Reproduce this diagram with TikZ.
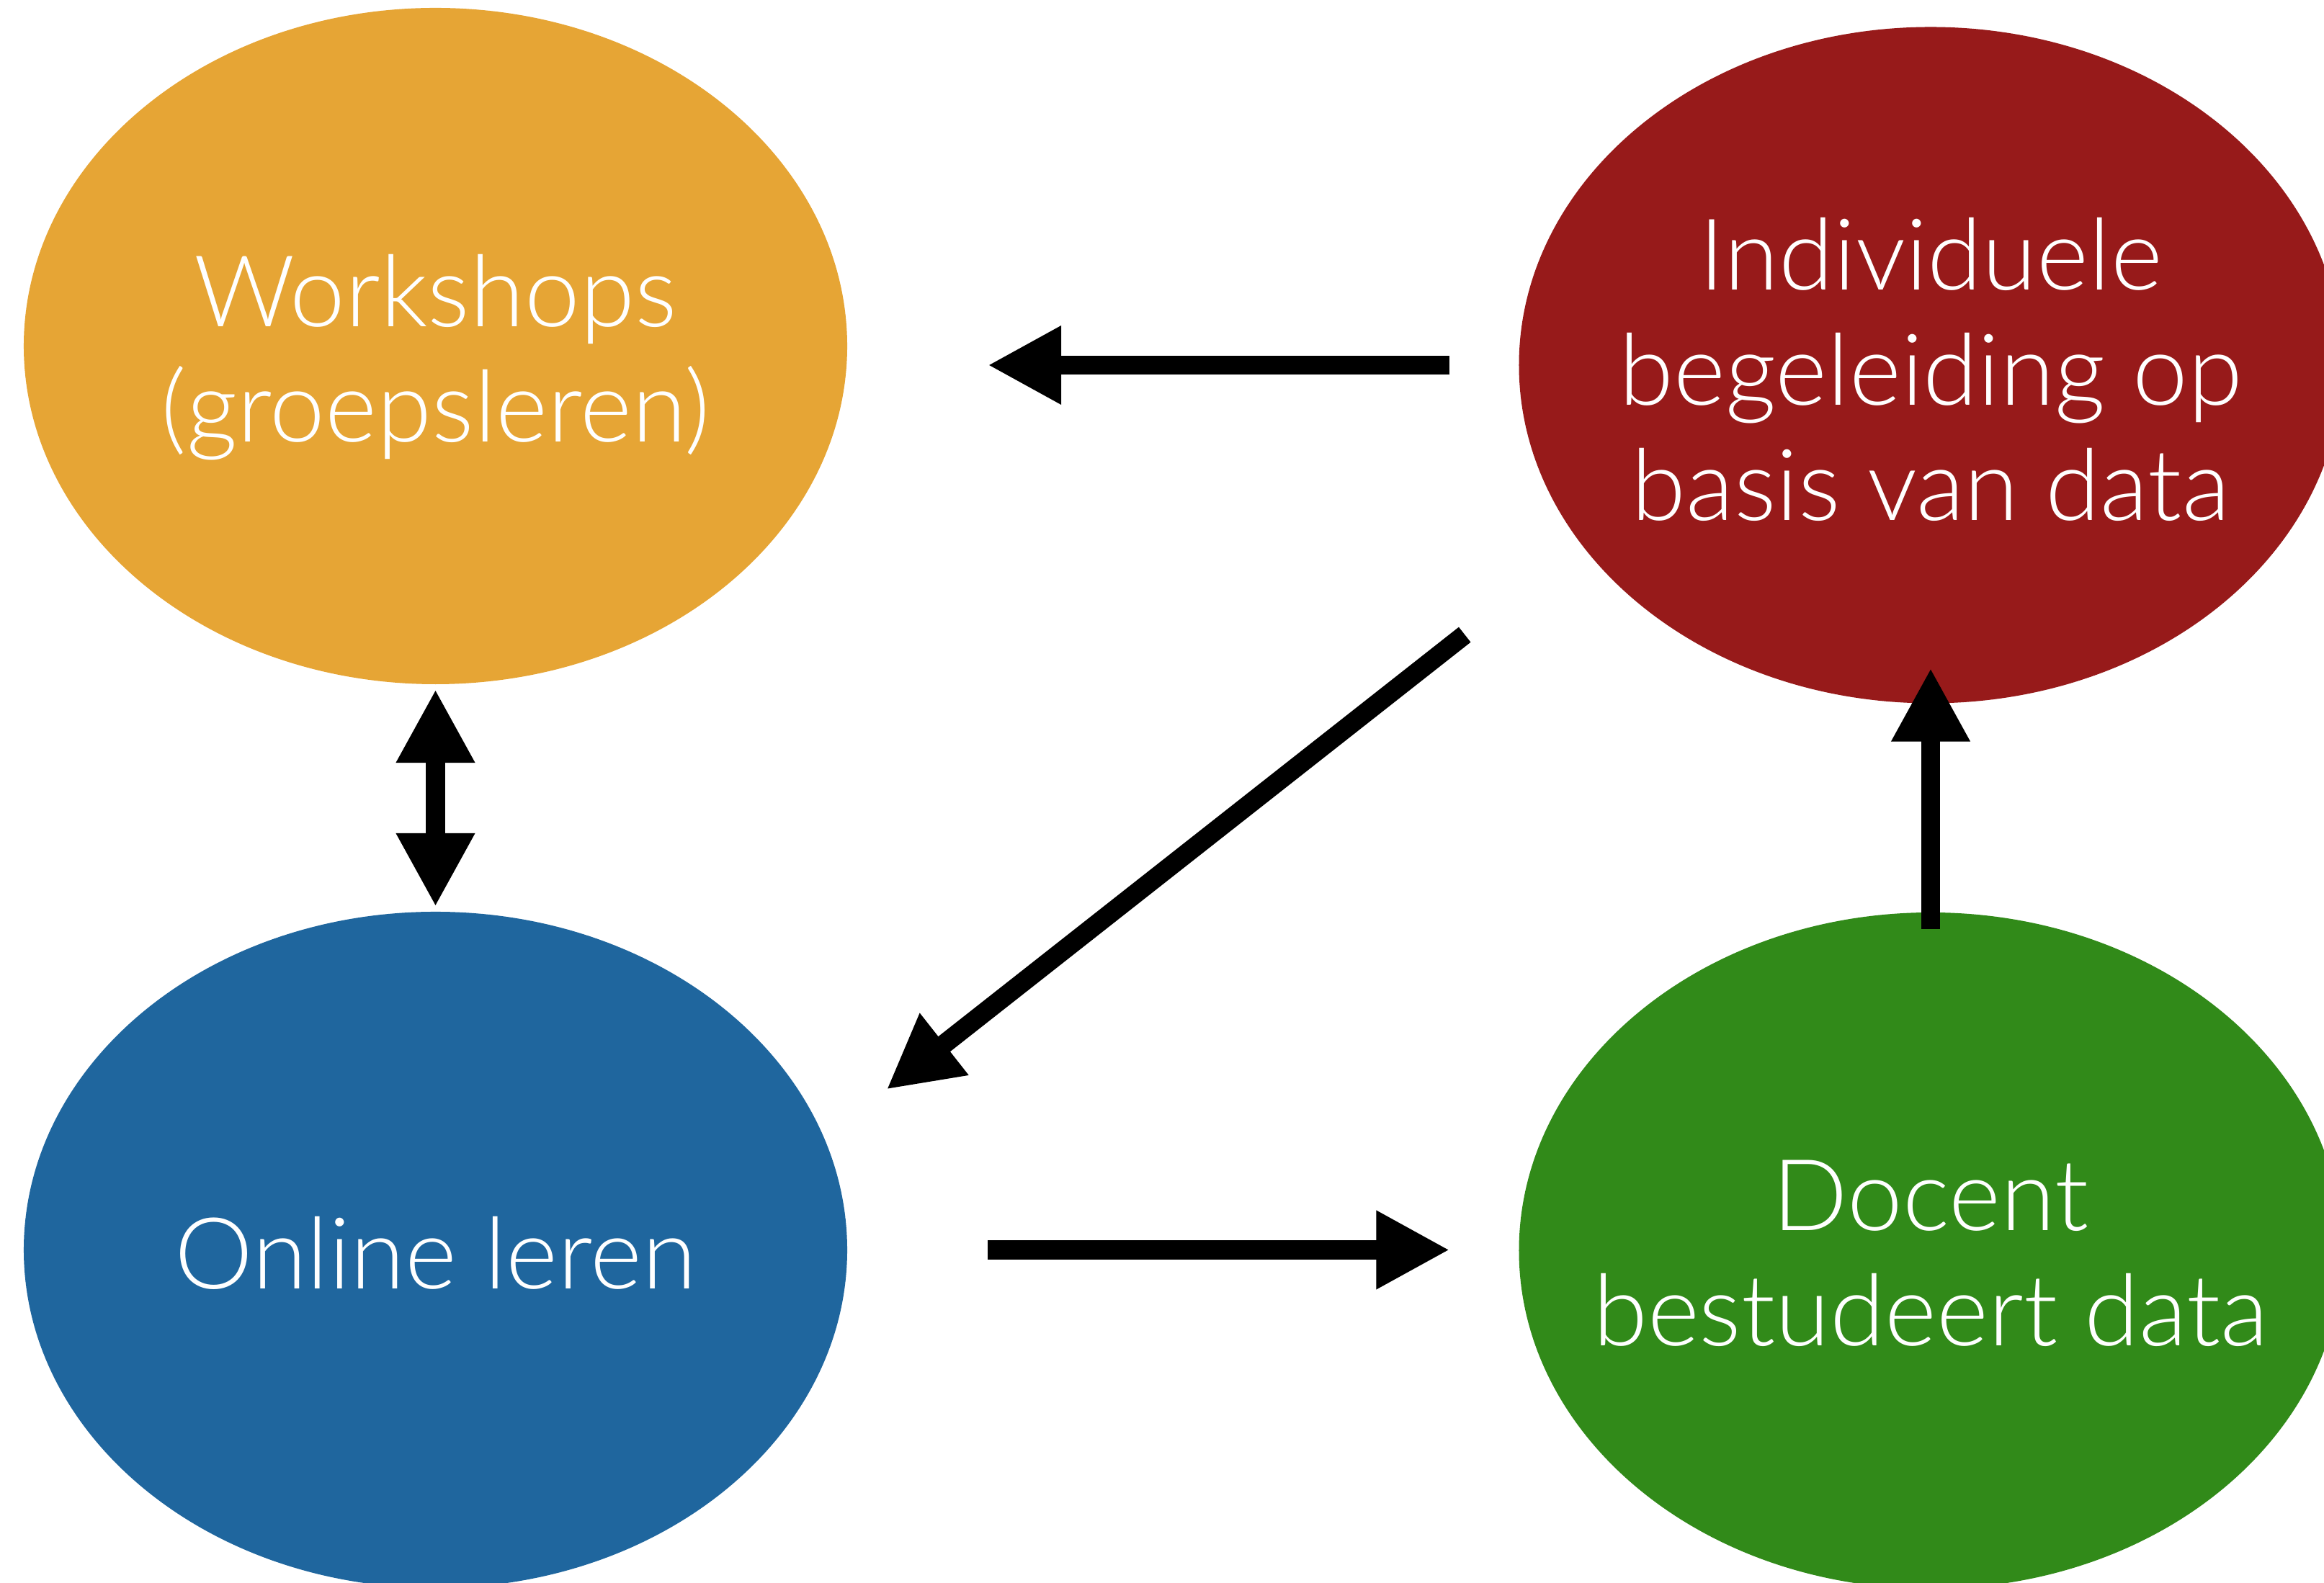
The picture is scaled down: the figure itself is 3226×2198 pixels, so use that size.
\documentclass[tikz,border=0pt]{standalone}
\usepackage{fontspec}
\setmainfont{Lato}[UprightFont=* Light]
\usetikzlibrary{shapes.geometric, arrows.meta}

\definecolor{wkorange}{RGB}{230,165,53}
\definecolor{indred}{RGB}{151,26,26}
\definecolor{olblue}{RGB}{31,102,158}
\definecolor{docgreen}{RGB}{49,138,25}

\begin{document}
\begin{tikzpicture}[
  x=0.05mm, y=-0.05mm,
  blob/.style={ellipse, minimum width=57.15mm, minimum height=46.95mm, inner sep=0pt, outer sep=0pt},
  lbl/.style={text=white, align=center, font=\fontsize{19.6}{22.8}\selectfont},
  flow/.style={line width=1.335mm, -{Triangle[length=5.1mm, width=5.1mm]}},
  flowboth/.style={line width=1.335mm, {Triangle[length=5.1mm, width=5.1mm]}-{Triangle[length=5.1mm, width=5.1mm]}},
]

\useasboundingbox (0,0) rectangle (3226,2198);
\clip (0,0) rectangle (3226,2198);

\node [blob, fill=wkorange] (wk) at (604.5,480.5) {};
\node [blob, fill=indred] (ind) at (2680,507) {};
\node [blob, fill=olblue] (ol) at (604.5,1735.5) {};
\node [blob, fill=docgreen] (doc) at (2680,1736.5) {};

\node [lbl, yshift=-0.8mm] (wk-txt) at (wk) {Workshops\\(groepsleren)};
\node [lbl, yshift=-0.3mm] (ind-txt) at (ind) {Individuele\\begeleiding op\\basis van data};
\node [lbl, yshift=-0.2mm] (ol-txt) at (ol) {Online leren};
\node [lbl, yshift=-0.2mm] (doc-txt) at (doc) {Docent\\bestudeert data};

\draw [flow, shorten <=4.8mm, shorten >=9.75mm] (ind.west) -- (ind.west -| wk.east);
\draw [flowboth, shorten <=0.35mm, shorten >=0.35mm] (wk.south) -- (ol.north);
\draw [flow, shorten <=10.25mm, shorten >=5.5mm] (ind.207.2) -- (ol.16.5);
\draw [flow, shorten <=9.75mm, shorten >=4.8mm] (ol.east) -- (ol.east -| doc.west);
\draw [flow, shorten <=-1.15mm, shorten >=-2.45mm] (doc.north) -- (ind.south);

\end{tikzpicture}
\end{document}
